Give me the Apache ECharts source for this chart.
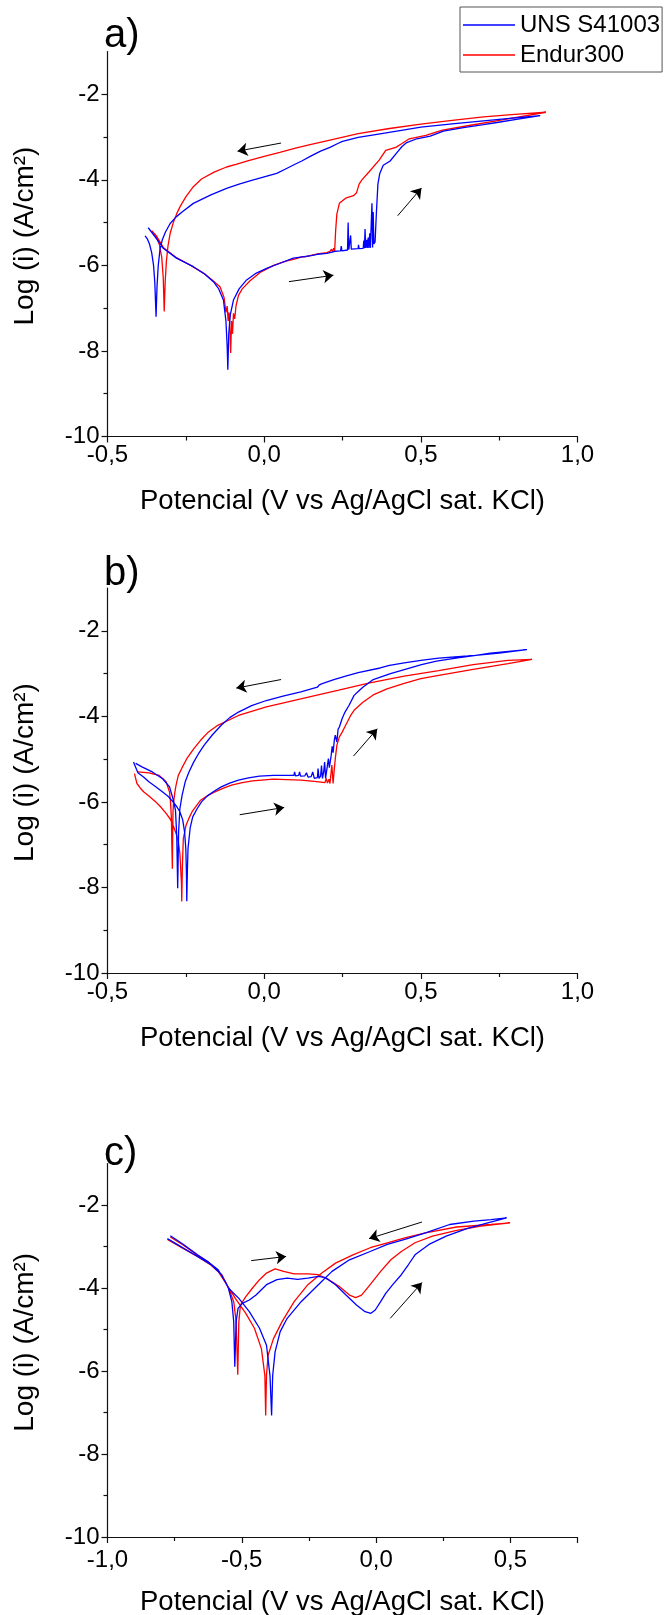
<!DOCTYPE html>
<html><head><meta charset="utf-8">
<script src="https://cdn.jsdelivr.net/npm/echarts@6/dist/echarts.min.js"></script>
<style>html,body{margin:0;padding:0;background:#fff}#c{width:664px;height:1615px}</style>
</head><body><div id="c"></div>
<script>
// ---- data: [potential V, log(i)] ----
const seriesNames = ['UNS S41003', 'Endur300'];
const panelLabels = ['a)', 'b)', 'c)'];
const xTitle = 'Potencial (V vs Ag/AgCl sat. KCl)';
const yTitle = 'Log (i) (A/cm\u00b2)';

const aUNS = [[-0.370,-5.12],[-0.345,-5.36],[-0.322,-5.60],[-0.28,-5.83],[-0.226,-6.03],[-0.19,-6.20],[-0.162,-6.38],[-0.145,-6.55],[-0.130,-6.81],[-0.122,-7.30],[-0.118,-7.90],[-0.116,-8.44],[-0.113,-7.60],[-0.108,-7.15],[-0.098,-6.81],[-0.08,-6.55],[-0.056,-6.34],[-0.025,-6.18],[0.008,-6.07],[0.05,-5.95],[0.093,-5.83],[0.15,-5.77],[0.17,-5.74],[0.172,-5.70],[0.174,-5.74],[0.20,-5.72],[0.226,-5.67],[0.244,-5.66],[0.246,-5.55],[0.248,-5.66],[0.266,-5.64],[0.268,-5.00],[0.270,-5.63],[0.274,-5.63],[0.276,-5.30],[0.278,-5.62],[0.300,-5.61],[0.301,-5.52],[0.303,-5.61],[0.316,-5.60],[0.318,-5.42],[0.320,-5.60],[0.322,-5.15],[0.324,-5.59],[0.327,-5.40],[0.329,-5.59],[0.332,-5.35],[0.334,-5.59],[0.337,-5.25],[0.339,-5.59],[0.344,-4.55],[0.346,-5.58],[0.348,-4.75],[0.350,-5.50],[0.354,-5.45],[0.358,-4.80],[0.363,-4.10],[0.369,-3.85],[0.380,-3.66],[0.402,-3.56],[0.423,-3.37],[0.440,-3.22],[0.455,-3.13],[0.487,-3.04],[0.530,-2.98],[0.572,-2.86],[0.636,-2.78],[0.70,-2.71],[0.743,-2.66],[0.81,-2.58],[0.881,-2.50],
  [0.80,-2.55],[0.70,-2.62],[0.60,-2.69],[0.50,-2.77],[0.433,-2.85],[0.35,-2.95],[0.30,-3.01],[0.25,-3.10],[0.235,-3.15],[0.21,-3.24],[0.18,-3.33],[0.15,-3.44],[0.12,-3.56],[0.10,-3.63],[0.07,-3.74],[0.04,-3.85],[0.0,-3.93],[-0.04,-4.01],[-0.08,-4.10],[-0.12,-4.20],[-0.17,-4.35],[-0.226,-4.55],[-0.26,-4.74],[-0.28,-4.86],[-0.30,-5.02],[-0.315,-5.22],[-0.325,-5.40],[-0.332,-5.60],[-0.338,-6.00],[-0.342,-6.50],[-0.345,-7.20],[-0.349,-6.40],[-0.353,-6.00],[-0.359,-5.70],[-0.366,-5.50],[-0.373,-5.38],[-0.380,-5.31]];

const aEndur = [[-0.359,-5.19],[-0.345,-5.30],[-0.322,-5.58],[-0.28,-5.82],[-0.24,-5.98],[-0.194,-6.18],[-0.165,-6.35],[-0.141,-6.50],[-0.128,-6.75],[-0.122,-7.10],[-0.118,-6.95],[-0.115,-7.30],[-0.112,-7.10],[-0.109,-7.60],[-0.107,-8.05],[-0.104,-7.30],[-0.101,-7.60],[-0.098,-7.12],[-0.094,-7.25],[-0.090,-6.95],[-0.082,-6.70],[-0.070,-6.55],[-0.045,-6.36],[-0.010,-6.15],[0.030,-6.00],[0.070,-5.90],[0.100,-5.85],[0.120,-5.80],[0.125,-5.76],[0.130,-5.80],[0.170,-5.73],[0.200,-5.70],[0.210,-5.67],[0.215,-5.62],[0.218,-5.68],[0.222,-5.60],[0.225,-5.66],[0.228,-5.20],[0.232,-4.80],[0.240,-4.55],[0.260,-4.43],[0.285,-4.37],[0.295,-4.30],[0.303,-4.10],[0.312,-4.00],[0.335,-3.81],[0.367,-3.54],[0.388,-3.31],[0.420,-3.24],[0.440,-3.15],[0.463,-3.04],[0.516,-2.96],[0.569,-2.84],[0.654,-2.73],[0.760,-2.60],[0.899,-2.42],
  [0.80,-2.47],[0.70,-2.53],[0.60,-2.61],[0.50,-2.70],[0.40,-2.80],[0.30,-2.92],[0.21,-3.07],[0.15,-3.17],[0.10,-3.26],[0.05,-3.36],[0.0,-3.45],[-0.05,-3.55],[-0.09,-3.64],[-0.12,-3.70],[-0.16,-3.82],[-0.20,-3.98],[-0.226,-4.16],[-0.25,-4.40],[-0.268,-4.62],[-0.279,-4.79],[-0.29,-5.00],[-0.30,-5.25],[-0.307,-5.55],[-0.312,-5.90],[-0.316,-6.40],[-0.319,-7.08],[-0.322,-6.30],[-0.327,-5.80],[-0.335,-5.50],[-0.345,-5.32],[-0.355,-5.22]];

const bUNS = [[-0.417,-5.07],[-0.403,-5.32],[-0.385,-5.42],[-0.368,-5.53],[-0.345,-5.65],[-0.324,-5.77],[-0.305,-5.88],[-0.291,-6.00],[-0.28,-6.10],[-0.269,-6.23],[-0.26,-6.42],[-0.254,-6.70],[-0.25,-7.10],[-0.248,-7.70],[-0.247,-8.32],[-0.245,-7.60],[-0.243,-7.09],[-0.236,-6.60],[-0.228,-6.35],[-0.214,-6.16],[-0.20,-6.00],[-0.181,-5.86],[-0.16,-5.75],[-0.137,-5.65],[-0.11,-5.56],[-0.082,-5.49],[-0.05,-5.44],[-0.015,-5.40],[0.03,-5.38],[0.062,-5.38],[0.095,-5.38],[0.097,-5.30],[0.10,-5.39],[0.11,-5.38],[0.113,-5.30],[0.116,-5.40],[0.13,-5.39],[0.135,-5.32],[0.14,-5.42],[0.15,-5.41],[0.155,-5.30],[0.16,-5.45],[0.17,-5.43],[0.172,-5.22],[0.175,-5.45],[0.18,-5.40],[0.183,-5.15],[0.186,-5.45],[0.19,-5.30],[0.193,-5.07],[0.196,-5.45],[0.199,-5.49],[0.205,-4.99],[0.208,-5.20],[0.214,-4.91],[0.217,-4.70],[0.22,-4.85],[0.224,-4.55],[0.227,-4.44],[0.232,-4.60],[0.236,-4.30],[0.240,-4.25],[0.249,-4.05],[0.258,-3.90],[0.271,-3.74],[0.287,-3.51],[0.30,-3.42],[0.315,-3.32],[0.348,-3.14],[0.403,-3.00],[0.45,-2.90],[0.502,-2.79],[0.55,-2.71],[0.612,-2.64],[0.67,-2.58],[0.722,-2.52],[0.78,-2.48],[0.838,-2.44],
  [0.838,-2.46],[0.75,-2.52],[0.65,-2.59],[0.557,-2.64],[0.50,-2.69],[0.447,-2.75],[0.40,-2.81],[0.370,-2.87],[0.30,-2.98],[0.260,-3.06],[0.22,-3.15],[0.183,-3.24],[0.175,-3.27],[0.170,-3.32],[0.117,-3.43],[0.06,-3.53],[0.007,-3.63],[-0.04,-3.75],[-0.082,-3.90],[-0.11,-4.03],[-0.137,-4.21],[-0.165,-4.43],[-0.192,-4.68],[-0.21,-4.88],[-0.225,-5.07],[-0.24,-5.30],[-0.252,-5.53],[-0.262,-5.85],[-0.269,-6.16],[-0.273,-6.70],[-0.276,-8.02],[-0.279,-6.80],[-0.283,-6.20],[-0.290,-5.95],[-0.302,-5.65],[-0.324,-5.46],[-0.357,-5.30],[-0.390,-5.18],[-0.41,-5.10]];

const bEndur = [[-0.414,-5.34],[-0.406,-5.57],[-0.395,-5.68],[-0.384,-5.77],[-0.365,-5.88],[-0.346,-6.00],[-0.33,-6.12],[-0.313,-6.27],[-0.30,-6.40],[-0.291,-6.54],[-0.282,-6.72],[-0.274,-6.93],[-0.269,-7.20],[-0.267,-7.48],[-0.264,-7.90],[-0.263,-8.33],[-0.261,-7.50],[-0.258,-6.86],[-0.249,-6.54],[-0.240,-6.38],[-0.230,-6.23],[-0.203,-5.96],[-0.18,-5.85],[-0.159,-5.77],[-0.13,-5.68],[-0.104,-5.61],[-0.07,-5.55],[-0.037,-5.51],[0.029,-5.47],[0.117,-5.49],[0.16,-5.52],[0.194,-5.55],[0.198,-5.45],[0.202,-5.56],[0.207,-5.47],[0.21,-5.57],[0.216,-5.14],[0.220,-5.57],[0.223,-5.30],[0.227,-4.99],[0.232,-4.68],[0.240,-4.48],[0.249,-4.37],[0.260,-4.21],[0.276,-3.98],[0.287,-3.86],[0.315,-3.67],[0.348,-3.50],[0.392,-3.36],[0.447,-3.23],[0.50,-3.12],[0.557,-3.04],[0.667,-2.90],[0.778,-2.77],[0.855,-2.67],
  [0.855,-2.65],[0.778,-2.69],[0.667,-2.79],[0.557,-2.93],[0.447,-3.06],[0.337,-3.22],[0.238,-3.39],[0.117,-3.59],[0.007,-3.78],[-0.082,-3.98],[-0.148,-4.21],[-0.18,-4.38],[-0.203,-4.56],[-0.225,-4.76],[-0.247,-4.99],[-0.262,-5.20],[-0.274,-5.38],[-0.281,-5.60],[-0.285,-5.77],[-0.289,-6.00],[-0.291,-6.23],[-0.292,-6.80],[-0.293,-7.56],[-0.295,-6.90],[-0.296,-6.39],[-0.299,-6.00],[-0.302,-5.77],[-0.313,-5.53],[-0.335,-5.38],[-0.368,-5.32],[-0.403,-5.30]];

const cUNS = [[-0.777,-2.81],[-0.730,-2.99],[-0.665,-3.24],[-0.614,-3.44],[-0.575,-3.68],[-0.550,-4.00],[-0.537,-4.33],[-0.530,-4.81],[-0.526,-5.90],[-0.521,-4.81],[-0.514,-4.49],[-0.498,-4.37],[-0.472,-4.29],[-0.447,-4.17],[-0.408,-3.92],[-0.369,-3.80],[-0.331,-3.76],[-0.292,-3.79],[-0.254,-3.76],[-0.215,-3.72],[-0.189,-3.75],[-0.151,-3.92],[-0.112,-4.17],[-0.073,-4.41],[-0.041,-4.57],[-0.019,-4.61],[-0.003,-4.53],[0.017,-4.33],[0.036,-4.13],[0.062,-3.92],[0.094,-3.68],[0.120,-3.44],[0.145,-3.20],[0.197,-2.95],[0.261,-2.75],[0.338,-2.57],[0.416,-2.43],[0.486,-2.31],
  [0.428,-2.35],[0.364,-2.39],[0.274,-2.47],[0.184,-2.67],[0.107,-2.83],[0.042,-2.95],[-0.022,-3.12],[-0.099,-3.32],[-0.164,-3.60],[-0.215,-3.92],[-0.279,-4.33],[-0.331,-4.73],[-0.357,-5.05],[-0.376,-5.54],[-0.385,-6.11],[-0.389,-7.07],[-0.395,-6.11],[-0.408,-5.38],[-0.434,-4.97],[-0.472,-4.57],[-0.511,-4.25],[-0.550,-4.00],[-0.562,-3.84],[-0.588,-3.56],[-0.627,-3.36],[-0.665,-3.20],[-0.717,-2.95],[-0.766,-2.74]];

const cEndur = [[-0.777,-2.83],[-0.717,-3.05],[-0.665,-3.24],[-0.614,-3.45],[-0.575,-3.68],[-0.550,-3.99],[-0.530,-4.33],[-0.521,-4.81],[-0.515,-6.09],[-0.511,-4.81],[-0.505,-4.41],[-0.485,-4.21],[-0.460,-4.00],[-0.434,-3.80],[-0.408,-3.64],[-0.376,-3.54],[-0.344,-3.60],[-0.305,-3.66],[-0.254,-3.66],[-0.215,-3.68],[-0.176,-3.80],[-0.138,-3.96],[-0.099,-4.17],[-0.076,-4.23],[-0.054,-4.17],[-0.022,-3.92],[0.017,-3.60],[0.055,-3.32],[0.094,-3.12],[0.145,-2.91],[0.210,-2.75],[0.300,-2.61],[0.390,-2.51],[0.499,-2.43],
  [0.428,-2.47],[0.300,-2.53],[0.184,-2.67],[0.107,-2.79],[0.042,-2.91],[-0.022,-3.03],[-0.086,-3.20],[-0.151,-3.40],[-0.202,-3.64],[-0.254,-3.92],[-0.305,-4.33],[-0.350,-4.81],[-0.382,-5.22],[-0.402,-5.62],[-0.408,-6.11],[-0.411,-7.07],[-0.414,-6.11],[-0.427,-5.46],[-0.453,-4.97],[-0.485,-4.61],[-0.524,-4.25],[-0.556,-3.92],[-0.588,-3.60],[-0.627,-3.36],[-0.665,-3.21],[-0.717,-2.97],[-0.766,-2.77]];

// scan-direction arrows: [x1, y1, x2, y2]
const arrowsA = [[0.054,-3.14,-0.085,-3.33],[0.079,-6.38,0.221,-6.23],[0.426,-4.84,0.502,-4.19]];
const arrowsB = [[0.054,-3.14,-0.089,-3.34],[-0.078,-6.30,0.064,-6.13],[0.285,-4.93,0.361,-4.29]];
const arrowsC = [[0.171,-2.41,-0.026,-2.81],[-0.465,-3.34,-0.335,-3.24],[0.053,-4.73,0.171,-3.87]];

const xRanges = [[-0.5, 1.0], [-0.5, 1.0], [-1.0, 0.75]];
const yRange = [-10, -1];
const yTickValues = [-10, -8, -6, -4, -2];

// ---- chart ----
const FONT = "'Liberation Sans', Arial, sans-serif";
const gridTops = [51.5, 588, 1163.5];
const gridHeights = [385, 385, 373.5];
const labelTops = [16, 554, 1134];
const xLabelMargins = [7, 7, 11];
const curves = [[aUNS, aEndur], [bUNS, bEndur], [cUNS, cEndur]];
const arrows = [arrowsA, arrowsB, arrowsC];
const colors = ['#0000ff', '#ff0000'];

const fmtX = v => {
  if (Math.abs(Math.round(v * 2) - v * 2) > 1e-6) return '';
  return v.toFixed(1).replace('.', ',');
};

const grids = [], xAxes = [], yAxes = [], series = [], graphics = [];
for (let p = 0; p < 3; p++) {
  grids.push({ left: 107.5, top: gridTops[p], width: 470, height: gridHeights[p], outerBoundsMode: 'none', containLabel: false });
  const xTicks = [];
  for (let v = xRanges[p][0]; v <= xRanges[p][1] + 1e-9; v += 0.5) xTicks.push(+v.toFixed(2));
  if (Math.abs(xTicks[xTicks.length - 1] - xRanges[p][1]) > 1e-9) xTicks.push(xRanges[p][1]);
  xAxes.push({
    type: 'value', gridIndex: p, min: xRanges[p][0], max: xRanges[p][1], interval: 0.5,
    axisLine: { show: true, onZero: false, lineStyle: { color: '#111', width: 1.2 } },
    axisTick: { show: true, inside: false, length: 6, customValues: xTicks, lineStyle: { color: '#111', width: 1.2 } },
    minorTick: { show: true, splitNumber: 2, length: 4, lineStyle: { color: '#111', width: 1.2 } },
    splitLine: { show: false }, minorSplitLine: { show: false },
    axisLabel: { show: true, margin: xLabelMargins[p], color: '#000', fontSize: 24, fontFamily: FONT, formatter: fmtX, showMinLabel: true, showMaxLabel: true, hideOverlap: false },
    name: xTitle, nameLocation: 'middle', nameGap: 51,
    nameTextStyle: { color: '#000', fontSize: 27.5, fontFamily: FONT }
  });
  yAxes.push({
    type: 'value', gridIndex: p, min: yRange[0], max: yRange[1], interval: 2,
    axisLine: { show: true, onZero: false, lineStyle: { color: '#111', width: 1.2 } },
    axisTick: { show: true, inside: false, length: 6, customValues: yTickValues, lineStyle: { color: '#111', width: 1.2 } },
    minorTick: { show: true, splitNumber: 2, length: 4, lineStyle: { color: '#111', width: 1.2 } },
    splitLine: { show: false }, minorSplitLine: { show: false },
    axisLabel: { show: true, margin: 8, color: '#000', fontSize: 24, fontFamily: FONT,
      formatter: v => (Math.abs(v % 2) < 1e-9 ? String(v) : ''), hideOverlap: false },
    name: yTitle, nameLocation: 'middle', nameGap: 68,
    nameTextStyle: { color: '#000', fontSize: 28, fontFamily: FONT, padding: [0, 0, 0, 16] }
  });
  for (let s = 0; s < 2; s++) {
    series.push({
      type: 'line', name: seriesNames[s], xAxisIndex: p, yAxisIndex: p,
      data: curves[p][s], symbol: 'none', showSymbol: false, smooth: false,
      lineStyle: { color: colors[s], width: 1.3 }, itemStyle: { color: colors[s] },
      z: s === 0 ? 3 : 2, silent: true
    });
  }
  series.push({
    type: 'lines', coordinateSystem: 'cartesian2d', xAxisIndex: p, yAxisIndex: p,
    symbol: ['none', 'arrow'], symbolSize: 10, silent: true,
    lineStyle: { color: '#000', width: 1, opacity: 1 },
    data: arrows[p].map(a => ({ coords: [[a[0], a[1]], [a[2], a[3]]] })),
    z: 5
  });
  graphics.push({
    type: 'text', left: 104, top: labelTops[p], silent: true,
    style: { text: panelLabels[p], fill: '#000', font: '40px ' + FONT }
  });
}

const chart = echarts.init(document.getElementById('c'), null, { renderer: 'canvas' });
chart.setOption({
  animation: false,
  backgroundColor: '#fff',
  textStyle: { fontFamily: FONT },
  grid: grids, xAxis: xAxes, yAxis: yAxes, series: series, graphic: graphics,
  legend: {
    data: seriesNames, orient: 'vertical', left: 460, top: 7, icon: 'rect',
    padding: [3, 2, 2, 3], itemGap: 0, itemWidth: 52, itemHeight: 1.5,
    backgroundColor: '#fff', borderColor: '#555', borderWidth: 1, borderRadius: 0,
    textStyle: { color: '#000', fontSize: 24, fontFamily: FONT, lineHeight: 30 },
    selectedMode: false
  }
});
</script>
</body></html>
